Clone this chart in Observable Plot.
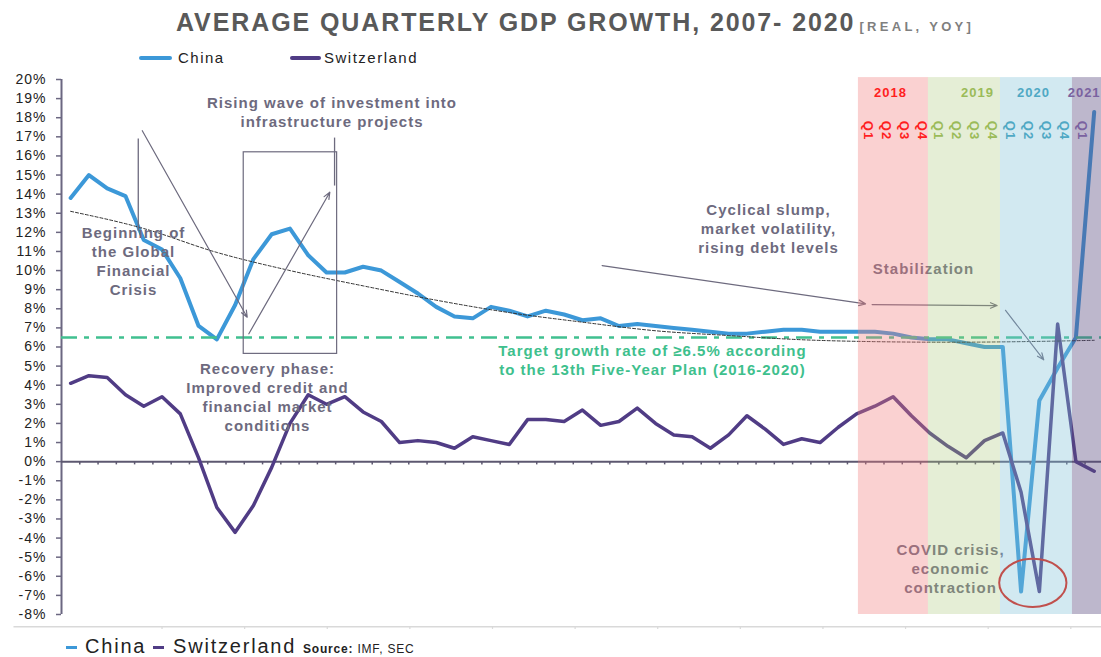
<!DOCTYPE html>
<html><head><meta charset="utf-8">
<script src="https://cdn.jsdelivr.net/npm/d3@7"></script>
<script src="https://cdn.jsdelivr.net/npm/@observablehq/plot@0.6"></script>
<style>
body{margin:0;background:#fff;font-family:"Liberation Sans",Arial,sans-serif;}
#wrap{position:relative;width:1101px;height:657px;overflow:hidden;background:#fff;}
#title{position:absolute;left:176px;top:10px;font-weight:bold;font-size:25px;line-height:1;color:#595959;white-space:nowrap;letter-spacing:1.9px;}
#title span{font-size:13px;color:#7f7f7f;letter-spacing:3.3px;margin-left:4px;}
.lg{position:absolute;top:50px;font-size:15px;line-height:1;color:#222;white-space:nowrap;letter-spacing:1.5px;}
.sw{position:absolute;top:56px;height:4px;border-radius:2px;}
#chart{position:absolute;left:0;top:66px;}
#chart svg text{letter-spacing:1px;}
.ft{position:absolute;top:636px;font-size:20px;line-height:1;color:#222;white-space:nowrap;letter-spacing:1.8px;}
.fd{position:absolute;top:646px;height:3px;width:11px;}
.src{position:absolute;top:643px;font-size:12px;line-height:1;color:#222;white-space:nowrap;letter-spacing:0.8px;}
</style></head>
<body><div id="wrap">
<div id="title">AVERAGE QUARTERLY GDP GROWTH, 2007- 2020<span>[REAL, YOY]</span></div>
<div class="sw" style="left:139px;width:33px;background:#3c98d8"></div><div class="lg" style="left:178px">China</div>
<div class="sw" style="left:290px;width:31px;background:#503c85"></div><div class="lg" style="left:324px">Switzerland</div>
<div id="chart"></div>
<div class="fd" style="left:66px;background:#3c98d8"></div><div class="ft" style="left:85px">China</div>
<div class="fd" style="left:153px;background:#503c85"></div><div class="ft" style="left:173px">Switzerland</div>
<div class="src" style="left:303px"><b>Source:</b> IMF, SEC</div>
</div>
<script>
// ---- data ----
const years = [2007,2008,2009,2010,2011,2012,2013,2014,2015,2016,2017,2018,2019,2020,2021];
const quarterNames = ["Q1","Q2","Q3","Q4"];
const quarters = years.flatMap(y => quarterNames.map(q => `${y} ${q}`)).slice(0, 57);
const china = [13.8,15.0,14.3,13.9, 11.6,11.1,9.6,7.1, 6.4,8.2,10.6,11.9, 12.2,10.8,9.9,9.9,
  10.2,10.0,9.4,8.8, 8.1,7.6,7.5,8.1, 7.9,7.6,7.9,7.7, 7.4,7.5,7.1,7.2, 7.1,7.0,6.9,6.8,
  6.7,6.7,6.8,6.9, 6.9,6.8,6.8,6.8, 6.8,6.7,6.5,6.4, 6.4,6.2,6.0,6.0, -6.8,3.2,4.9,6.5, 18.3];
const switzerland = [4.1,4.5,4.4,3.5, 2.9,3.4,2.5,0.2, -2.4,-3.7,-2.3,-0.3, 2.0,3.5,3.0,3.4,
  2.6,2.1,1.0,1.1, 1.0,0.7,1.3,1.1, 0.9,2.2,2.2,2.1, 2.7,1.9,2.1,2.8, 2.0,1.4,1.3,0.7,
  1.4,2.4,1.7,0.9, 1.2,1.0,1.8,2.5, 2.9,3.4,2.4,1.5, 0.8,0.2,1.1,1.5, -1.6,-6.8,7.2,0.0, -0.5];
const trendIndex = [0,4,8,12,16,20,24,28,32,36,40,44,48,52,56];
const trendValue = [13.1,12.2,10.95,10.0,9.2,8.45,7.8,7.3,6.85,6.6,6.38,6.28,6.25,6.28,6.35];
const targetRate = 6.5;
const yTicks = [-8,-7,-6,-5,-4,-3,-2,-1,0,1,2,3,4,5,6,7,8,9,10,11,12,13,14,15,16,17,18,19,20];
const shadeYears = ["2018","2019","2020","2021"];
const shadeStart = [43.1, 46.93, 50.87, 54.81];
const shadeEnd = [46.93, 50.87, 54.81, 56.8];
const shadeQuarters = [4, 4, 4, 1];
const yearLabelAt = [44.85, 49.61, 52.68, 55.45];

// ---- styles ----
const gray = "#6d6a7e";
const yearFill = ["#f07c7c", "#a8c878", "#7fbfd6", "#5a4a80"];
const yearOpacity = [0.35, 0.3, 0.35, 0.4];
const yearText = ["#ff1f1f", "#9bbb59", "#4fa8c4", "#7a62a0"];

const rows = quarters.map((q, i) => ({i, q, china: china[i], switzerland: switzerland[i]}));
const trend = trendIndex.map((i, k) => ({i, v: trendValue[k]}));
const shades = shadeYears.map((y, k) => ({y, x1: shadeStart[k], x2: shadeEnd[k], fill: yearFill[k], op: yearOpacity[k], color: yearText[k]}));
const qLabels = shades.flatMap((s, k) => d3.range(shadeQuarters[k]).map(j => ({x: s.x1 + (j + 0.55) * 0.98, t: "Q" + (j + 1), color: s.color})));
const yearLabels = shades.map((s, k) => ({x: yearLabelAt[k], t: s.y, color: s.color}));

const notes = [
  {x: 14.30, y: 18.34, t: "Rising wave of investment into\ninfrastructure projects", c: gray},
  {x: 3.44, y: 10.55, t: "Beginning of\nthe Global\nFinancial\nCrisis", c: gray},
  {x: 10.77, y: 3.42, t: "Recovery phase:\nImproved credit and\nfinancial market\nconditions", c: gray},
  {x: 38.18, y: 12.24, t: "Cyclical slump,\nmarket volatility,\nrising debt levels", c: gray},
  {x: 46.66, y: 10.12, t: "Stabilization", c: gray},
  {x: 48.14, y: -5.55, t: "COVID crisis,\neconomic\ncontraction", c: gray},
  {x: 31.83, y: 5.36, t: "Target growth rate of \u22656.5% according\nto the 13th Five-Year Plan (2016-2020)", c: "#3ec08d"}
];
const arrows = [
  {x1: 3.92, y1: 17.32, x2: 9.66, y2: 7.56},
  {x1: 9.75, y1: 6.69, x2: 14.18, y2: 14.10},
  {x1: 29.08, y1: 10.26, x2: 43.49, y2: 8.26},
  {x1: 43.85, y1: 8.22, x2: 50.69, y2: 8.17},
  {x1: 51.15, y1: 7.92, x2: 53.24, y2: 5.33}
];
const links = [
  {x1: 3.70, y1: 16.91, x2: 3.70, y2: 12.09},
  {x1: 14.44, y1: 16.96, x2: 14.44, y2: 14.45}
];
const box = [{x1: 9.47, x2: 14.58, y1: 5.64, y2: 16.19}];
const ellipse = {x: 52.67, y: -6.37, rx: 1.84, ry: 1.26};
const bottomTicks = d3.range(12).map(k => 5.0 + 4.52 * k);

const ellipseMark = (index, {x, y}) => {
  const cx = x(ellipse.x), cy = y(ellipse.y);
  return d3.create("svg:ellipse")
    .attr("cx", cx).attr("cy", cy)
    .attr("rx", x(ellipse.x + ellipse.rx) - cx)
    .attr("ry", cy - y(ellipse.y + ellipse.ry))
    .attr("fill", "none").attr("stroke", "#c0504d").attr("stroke-width", 2)
    .node();
};

const chart = Plot.plot({
  width: 1101, height: 570,
  marginTop: 13, marginBottom: 22, marginLeft: 61, marginRight: 0,
  style: {fontFamily: "'Liberation Sans', Arial, sans-serif", background: "transparent", overflow: "visible"},
  x: {domain: [-0.5, 56.4], axis: null},
  y: {domain: [-8, 20]},
  marks: [
    Plot.ruleY([-8.64], {x1: -3.1, x2: 56.6, stroke: "#d9d9d9", strokeWidth: 1.5}),
    Plot.ruleX(bottomTicks, {x: d => d, y1: -8.64, y2: -8.78, stroke: "#d9d9d9", strokeWidth: 1.2}),
    Plot.axisY({ticks: yTicks, tickFormat: d => d + "%", tickSize: 5, tickPadding: 10, fontSize: 14, fill: "#222", stroke: "#6b6781", strokeWidth: 1.5, label: null}),
    Plot.ruleX([-0.5], {y1: -8, y2: 20, stroke: "#6b6781", strokeWidth: 2}),
    Plot.ruleY([0], {stroke: "#5d5870", strokeWidth: 2}),
    Plot.ruleX(rows.slice(0, -1), {x: d => d.i + 0.5, y1: 0, y2: -0.17, stroke: "#5d5870", strokeWidth: 1.5}),
    Plot.line(rows, {x: "i", y: "china", stroke: "#3c98d8", strokeWidth: 4, strokeLinejoin: "round"}),
    Plot.ruleY([targetRate], {stroke: "#40c090", strokeWidth: 2.5, strokeDasharray: "16,7,5,7"}),
    Plot.line(rows, {x: "i", y: "switzerland", stroke: "#503c85", strokeWidth: 3.5, strokeLinejoin: "round"}),
    Plot.line(trend, {x: "i", y: "v", stroke: "#333", strokeWidth: 1, strokeDasharray: "3,2", curve: "monotone-x"}),
    Plot.rect(box, {x1: "x1", x2: "x2", y1: "y1", y2: "y2", fill: "none", stroke: gray, strokeWidth: 1.2}),
    Plot.link(links, {x1: "x1", y1: "y1", x2: "x2", y2: "y2", stroke: gray, strokeWidth: 1.3}),
    Plot.arrow(arrows, {x1: "x1", y1: "y1", x2: "x2", y2: "y2", stroke: gray, strokeWidth: 1.2, headLength: 9, headAngle: 45}),
    Plot.text(notes, {x: "x", y: "y", text: "t", fill: "c", fontSize: 15, fontWeight: "bold", lineHeight: 1.27, textAnchor: "middle", lineAnchor: "middle"}),
    Plot.rect(shades, {x1: "x1", x2: "x2", y1: -8, y2: 20.1, fill: "fill", fillOpacity: "op"}),
    ellipseMark,
    Plot.text(yearLabels, {x: "x", y: 19.32, text: "t", fill: "color", fontSize: 13, fontWeight: "bold", textAnchor: "middle"}),
    Plot.text(qLabels, {x: "x", y: 17.33, text: "t", fill: "color", fontSize: 13, fontWeight: "bold", rotate: 90, textAnchor: "middle"})
  ]
});
document.getElementById("chart").appendChild(chart);
</script>
</body></html>
